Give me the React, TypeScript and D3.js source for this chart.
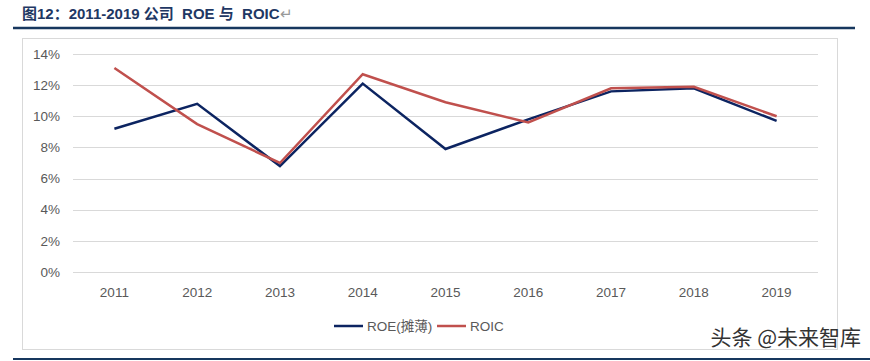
import React, { useEffect, useRef } from 'react';
import * as d3 from 'd3';

const years = ['2011', '2012', '2013', '2014', '2015', '2016', '2017', '2018', '2019'];
const roe = [9.2, 10.8, 6.8, 12.1, 7.9, 9.8, 11.6, 11.8, 9.7];
const roic = [13.1, 9.5, 7.0, 12.7, 10.9, 9.6, 11.8, 11.9, 10.0];
const yTicks = [0, 2, 4, 6, 8, 10, 12, 14];

const W = 870;
const H = 361;
const font = '"Liberation Sans", "Noto Sans CJK SC", sans-serif';

const App = () => {
    const ref = useRef<SVGSVGElement>(null);

    useEffect(() => {
        const svg = d3.select(ref.current);
        svg.selectAll('*').remove();

        const x = d3.scalePoint().domain(years).range([73, 818]).padding(0.5);
        const y = d3.scaleLinear().domain([0, 14]).range([272, 54]);

        // title
        svg.append('text')
            .attr('x', 22).attr('y', 19)
            .attr('font-family', font).attr('font-size', 15).attr('font-weight', 'bold')
            .attr('fill', '#1f3864')
            .style('white-space', 'pre')
            .text('图12：2011-2019 公司  ROE 与  ROIC')
            .append('tspan').attr('fill', '#999').attr('font-weight', 'normal').text('↵');

        svg.append('line')
            .attr('x1', 13).attr('x2', 855).attr('y1', 28).attr('y2', 28)
            .attr('stroke', '#17375e').attr('stroke-width', 2.5);

        // chart frame
        svg.append('rect')
            .attr('x', 22.5).attr('y', 38.5).attr('width', 815).attr('height', 311)
            .attr('fill', 'none').attr('stroke', '#d9d9d9');

        // gridlines
        svg.append('g')
            .selectAll('line')
            .data(yTicks)
            .join('line')
            .attr('x1', 73).attr('x2', 818)
            .attr('y1', d => Math.round(y(d)) + 0.5).attr('y2', d => Math.round(y(d)) + 0.5)
            .attr('stroke', '#d9d9d9');

        svg.append('g')
            .attr('font-family', font).attr('font-size', 13.5).attr('fill', '#595959')
            .attr('text-anchor', 'end')
            .selectAll('text')
            .data(yTicks)
            .join('text')
            .attr('x', 60).attr('y', d => y(d)).attr('dy', '0.35em')
            .text(d => d + '%');

        svg.append('g')
            .attr('font-family', font).attr('font-size', 13.5).attr('fill', '#595959')
            .attr('text-anchor', 'middle')
            .selectAll('text')
            .data(years)
            .join('text')
            .attr('x', d => x(d)!).attr('y', 297)
            .text(d => d);

        const line = d3.line<number>()
            .x((d, i) => x(years[i])!)
            .y(d => y(d));

        svg.append('path').datum(roe)
            .attr('d', line).attr('fill', 'none')
            .attr('stroke', '#0c2461').attr('stroke-width', 2.5);
        svg.append('path').datum(roic)
            .attr('d', line).attr('fill', 'none')
            .attr('stroke', '#c0504d').attr('stroke-width', 2.5);

        // legend
        const legend = [
            { name: 'ROE(摊薄)', color: '#0c2461', x: 334 },
            { name: 'ROIC', color: '#c0504d', x: 437 },
        ];
        const lg = svg.append('g').selectAll('g').data(legend).join('g')
            .attr('transform', d => `translate(${d.x},326)`);
        lg.append('line').attr('x1', 0).attr('x2', 29)
            .attr('stroke', d => d.color).attr('stroke-width', 2.5);
        lg.append('text').attr('x', 33).attr('dy', '0.35em')
            .attr('font-family', font).attr('font-size', 13.5).attr('fill', '#595959')
            .text(d => d.name);

        // watermark
        svg.append('text')
            .attr('x', 861).attr('y', 345).attr('text-anchor', 'end')
            .attr('font-family', '"Noto Sans CJK SC", sans-serif').attr('font-size', 21)
            .attr('fill', '#333')
            .text('头条 @未来智库');

        svg.append('line')
            .attr('x1', 13).attr('x2', 870).attr('y1', 359).attr('y2', 359)
            .attr('stroke', '#17375e').attr('stroke-width', 2);
    }, []);

    return (
        <svg ref={ref} width={W} height={H}
            style={{ position: 'absolute', left: 0, top: 0, background: '#fff' }} />
    );
};

export default App;
